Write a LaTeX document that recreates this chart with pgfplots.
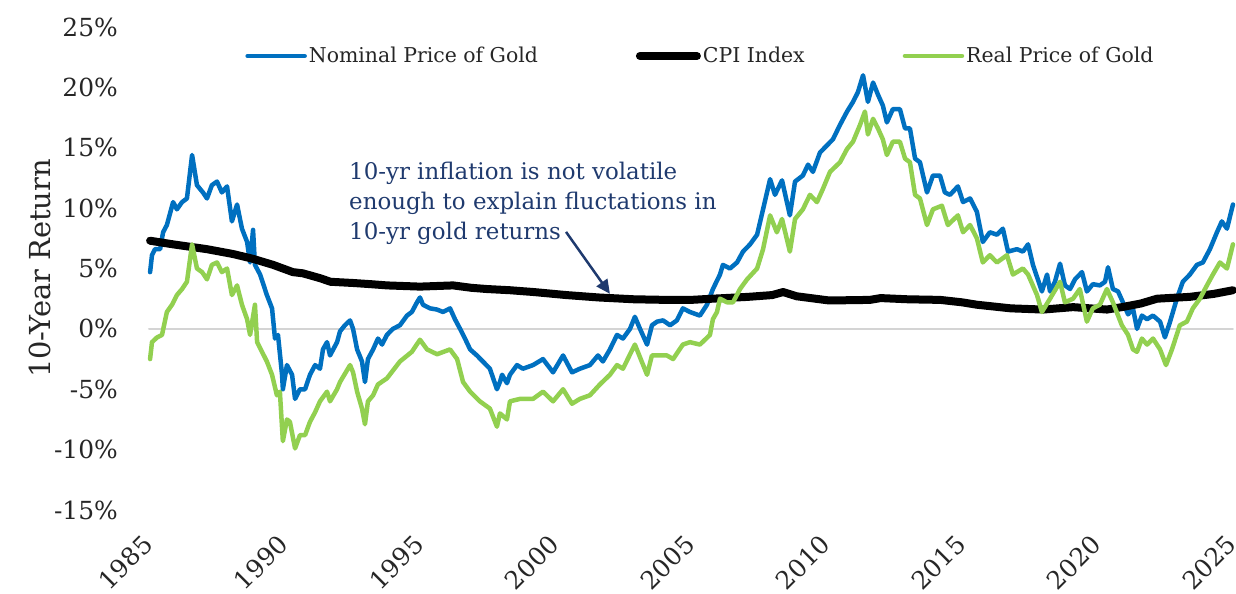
\documentclass[border=0pt]{standalone}
\usepackage{fontspec}
\setmainfont{DejaVu Serif}
\usepackage{pgfplots}
\pgfplotsset{compat=1.18}
\usetikzlibrary{arrows.meta}
\definecolor{nomblue}{HTML}{0070C0}
\definecolor{realgreen}{HTML}{92D050}
\definecolor{annnavy}{HTML}{1F3A6E}
\definecolor{zerogray}{HTML}{D4D4D4}
\definecolor{txt}{HTML}{262626}
\begin{document}
\begin{tikzpicture}
\begin{axis}[
  at={(0,0)}, anchor=south west,
  scale only axis, width=1084bp, height=483bp,
  xmin=1985, xmax=2025, ymin=-15, ymax=25,
  clip=false,
  axis line style={draw=none},
  tick style={draw=none},
  xtick={1985,1990,...,2025},
  ytick={-15,-10,...,25},
  /pgf/number format/assume math mode=true,
  /pgf/number format/1000 sep={},
  yticklabel={\pgfmathprintnumber{\tick}\%},
  xticklabel style={xshift=-1bp, yshift=-30bp, rotate=45, anchor=east, inner sep=0pt, text=txt,
    font=\fontsize{25}{28}\selectfont},
  yticklabel style={anchor=east, inner sep=0pt, text=txt,
    font=\fontsize{25}{28}\selectfont, xshift=-31bp},
  ylabel={10-Year Return},
  ylabel style={at={(axis description cs:-0.1006,0.5)}, anchor=center,
    font=\fontsize{29}{32}\selectfont, text=txt},
  legend columns=3,
  legend cell align=left,
  legend style={at={(axis cs:2005.35,22.6)}, anchor=center, draw=none, fill=none,
    font=\fontsize{20.5}{24}\selectfont, text=txt, inner sep=0pt,
    /tikz/every even column/.append style={column sep=96bp}},
  legend image code/.code={\draw[#1] (0bp,0bp) -- (57bp,0bp);},
  every axis plot/.append style={line join=round, line cap=round},
]
\addplot[zerogray, line width=2bp, forget plot] coordinates {(1985,0) (2025,0)};

% Nominal price of gold
\addplot[nomblue, line width=4.5bp] coordinates {
(1985.04,4.7) (1985.11,6.1) (1985.22,6.6) (1985.41,6.6) (1985.52,8.0) (1985.66,8.6)
(1985.89,10.5) (1986.03,9.9) (1986.22,10.5) (1986.40,10.8) (1986.59,14.4) (1986.77,11.9)
(1986.99,11.3) (1987.14,10.8) (1987.32,11.9) (1987.51,12.2) (1987.69,11.3) (1987.88,11.8)
(1988.06,8.9) (1988.25,10.3) (1988.43,8.3) (1988.62,7.2) (1988.73,5.5) (1988.84,8.2)
(1988.91,5.3) (1989.10,4.5) (1989.35,2.8) (1989.54,1.7) (1989.65,-0.8) (1989.76,-0.5)
(1989.91,-3.8) (1989.94,-5.0) (1990.09,-3.0) (1990.28,-3.8) (1990.39,-5.8) (1990.57,-5.0)
(1990.76,-5.0) (1990.94,-3.8) (1991.13,-3.0) (1991.31,-3.3) (1991.42,-1.7) (1991.57,-1.1)
(1991.68,-2.2) (1991.94,-1.1) (1992.05,-0.2) (1992.23,0.3) (1992.42,0.7) (1992.53,0.0)
(1992.68,-1.7) (1992.86,-2.7) (1992.97,-4.4) (1993.08,-2.5) (1993.27,-1.7) (1993.45,-0.8)
(1993.60,-1.3) (1993.78,-0.5) (1994.00,0.0) (1994.26,0.3) (1994.52,1.1) (1994.70,1.4)
(1994.89,2.2) (1995.00,2.6) (1995.11,2.0) (1995.37,1.7) (1995.63,1.6) (1995.85,1.4)
(1996.11,1.7) (1996.29,0.8) (1996.48,0.0) (1996.66,-0.8) (1996.85,-1.7) (1997.10,-2.2)
(1997.32,-2.7) (1997.58,-3.3) (1997.84,-5.0) (1997.95,-4.4) (1998.03,-3.8) (1998.21,-4.5)
(1998.32,-3.8) (1998.58,-3.0) (1998.80,-3.3) (1999.17,-3.0) (1999.54,-2.5) (1999.91,-3.6)
(2000.28,-2.2) (2000.61,-3.6) (2000.90,-3.3) (2001.27,-3.0) (2001.57,-2.2) (2001.75,-2.7)
(2002.01,-1.7) (2002.27,-0.5) (2002.49,-0.8) (2002.75,0.0) (2002.93,1.0) (2003.12,0.0)
(2003.38,-1.3) (2003.56,0.3) (2003.75,0.6) (2003.97,0.7) (2004.23,0.3) (2004.48,0.7)
(2004.70,1.7) (2004.96,1.4) (2005.33,1.1) (2005.59,2.0) (2005.81,3.3) (2006.07,4.5)
(2006.18,5.3) (2006.44,5.0) (2006.70,5.5) (2006.92,6.4) (2007.18,7.0) (2007.44,7.8)
(2007.66,9.9) (2007.92,12.4) (2008.10,11.1) (2008.36,12.3) (2008.65,9.4) (2008.84,12.2)
(2009.13,12.7) (2009.32,13.6) (2009.50,13.0) (2009.76,14.6) (2010.02,15.2) (2010.24,15.7)
(2010.50,16.9) (2010.76,18.0) (2010.98,18.8) (2011.16,19.6) (2011.35,21.0) (2011.53,18.8)
(2011.72,20.4) (2011.90,19.4) (2012.08,18.5) (2012.23,17.1) (2012.45,18.2) (2012.71,18.2)
(2012.90,16.6) (2013.08,16.6) (2013.27,14.1) (2013.45,13.8) (2013.71,11.3) (2013.93,12.7)
(2014.19,12.7) (2014.37,11.3) (2014.56,11.1) (2014.85,11.8) (2015.04,10.5) (2015.30,10.8)
(2015.55,9.7) (2015.77,7.2) (2016.03,8.0) (2016.29,7.8) (2016.51,8.3) (2016.70,6.4)
(2017.03,6.6) (2017.25,6.4) (2017.44,7.0) (2017.62,5.3) (2017.95,3.1) (2018.14,4.5)
(2018.25,3.1) (2018.43,3.9) (2018.62,5.4) (2018.80,3.6) (2018.99,3.3) (2019.17,4.1)
(2019.43,4.7) (2019.61,3.1) (2019.83,3.7) (2020.09,3.6) (2020.28,3.9) (2020.39,5.1)
(2020.57,3.3) (2020.76,3.1) (2020.94,2.2) (2021.13,1.2) (2021.31,1.7) (2021.46,0.0)
(2021.64,1.1) (2021.83,0.8) (2022.05,1.1) (2022.31,0.6) (2022.49,-0.7) (2022.68,0.6)
(2022.93,2.5) (2023.15,3.9) (2023.41,4.5) (2023.67,5.3) (2023.89,5.5) (2024.15,6.6)
(2024.41,8.0) (2024.59,8.9) (2024.78,8.3) (2025.00,10.3)
};
\addlegendentry{Nominal Price of Gold}

% CPI index
\addplot[black, line width=8bp] coordinates {
(1985.04,7.3) (1985.89,7.0) (1987.14,6.6) (1988.10,6.2) (1988.84,5.8) (1989.58,5.3)
(1990.31,4.7) (1990.68,4.6) (1991.31,4.2) (1991.70,3.9) (1992.53,3.8) (1993.20,3.7)
(1993.78,3.6) (1995.00,3.5) (1996.22,3.6) (1996.90,3.4) (1997.47,3.3) (1998.32,3.2)
(1999.20,3.05) (2000.40,2.8) (2001.60,2.6) (2002.90,2.45) (2004.10,2.4) (2005.00,2.4)
(2005.80,2.5) (2007.10,2.65) (2008.00,2.8) (2008.40,3.05) (2008.90,2.7) (2010.10,2.35)
(2011.60,2.4) (2012.00,2.55) (2013.00,2.45) (2014.20,2.4) (2015.00,2.2) (2015.55,2.0)
(2016.80,1.7) (2018.00,1.6) (2019.10,1.8) (2020.35,1.6) (2020.90,1.8) (2021.60,2.1)
(2022.20,2.5) (2023.40,2.65) (2024.30,2.9) (2025.00,3.2)
};
\addlegendentry{CPI Index}

% Real price of gold
\addplot[realgreen, line width=4.5bp] coordinates {
(1985.04,-2.5) (1985.11,-1.1) (1985.30,-0.7) (1985.48,-0.5) (1985.66,1.4) (1985.85,2.0)
(1986.03,2.8) (1986.22,3.3) (1986.40,3.9) (1986.59,7.0) (1986.77,5.0) (1986.96,4.7)
(1987.14,4.1) (1987.32,5.3) (1987.51,5.5) (1987.69,4.7) (1987.88,5.0) (1988.06,2.8)
(1988.25,3.6) (1988.43,2.0) (1988.62,0.8) (1988.73,-0.5) (1988.91,2.0) (1988.99,-1.1)
(1989.17,-1.9) (1989.35,-2.7) (1989.54,-3.8) (1989.72,-5.5) (1989.83,-5.2) (1989.94,-9.3)
(1990.09,-7.5) (1990.20,-7.7) (1990.39,-9.9) (1990.57,-8.8) (1990.76,-8.8) (1990.94,-7.7)
(1991.13,-6.9) (1991.31,-6.0) (1991.57,-5.2) (1991.68,-6.0) (1991.94,-5.0) (1992.05,-4.4)
(1992.42,-3.0) (1992.53,-3.6) (1992.68,-5.2) (1992.86,-6.6) (1992.97,-7.9) (1993.08,-6.0)
(1993.27,-5.5) (1993.45,-4.6) (1993.78,-4.1) (1994.26,-2.7) (1994.70,-1.9) (1995.00,-0.9)
(1995.26,-1.7) (1995.63,-2.1) (1996.11,-1.7) (1996.37,-2.5) (1996.59,-4.4) (1996.85,-5.2)
(1997.21,-6.0) (1997.58,-6.6) (1997.84,-8.1) (1997.95,-7.0) (1998.21,-7.5) (1998.32,-6.0)
(1998.69,-5.8) (1999.17,-5.8) (1999.54,-5.2) (1999.91,-6.0) (2000.28,-5.0) (2000.61,-6.2)
(2000.90,-5.8) (2001.27,-5.5) (2001.64,-4.6) (2002.01,-3.8) (2002.27,-3.0) (2002.49,-3.3)
(2002.93,-1.3) (2003.38,-3.8) (2003.56,-2.2) (2004.11,-2.2) (2004.34,-2.5) (2004.70,-1.3)
(2004.96,-1.1) (2005.33,-1.3) (2005.70,-0.5) (2005.81,0.8) (2005.96,1.4) (2006.07,2.5)
(2006.33,2.2) (2006.55,2.2) (2006.81,3.3) (2007.07,4.1) (2007.44,5.0) (2007.66,6.6)
(2007.92,9.4) (2008.17,8.0) (2008.36,9.1) (2008.65,6.4) (2008.84,9.1) (2009.13,9.9)
(2009.39,11.1) (2009.65,10.5) (2009.87,11.6) (2010.13,13.0) (2010.50,13.8) (2010.76,14.9)
(2010.98,15.5) (2011.24,16.9) (2011.42,18.0) (2011.53,16.1) (2011.72,17.4) (2011.90,16.6)
(2012.08,15.7) (2012.23,14.4) (2012.45,15.5) (2012.71,15.5) (2012.90,14.1) (2013.08,13.8)
(2013.27,11.1) (2013.45,10.8) (2013.71,8.6) (2013.93,9.9) (2014.26,10.2) (2014.48,8.6)
(2014.85,9.4) (2015.04,8.0) (2015.30,8.6) (2015.55,7.5) (2015.77,5.5) (2016.03,6.1)
(2016.29,5.5) (2016.66,6.1) (2016.88,4.5) (2017.25,5.0) (2017.44,4.5) (2017.77,2.8)
(2017.95,1.4) (2018.25,2.5) (2018.62,3.9) (2018.80,2.2) (2019.10,2.5) (2019.35,3.3)
(2019.61,0.6) (2019.83,1.7) (2020.09,2.0) (2020.35,3.3) (2020.57,2.2) (2020.90,0.3)
(2021.13,-0.5) (2021.31,-1.7) (2021.46,-1.9) (2021.64,-0.8) (2021.83,-1.3) (2022.05,-0.8)
(2022.31,-1.7) (2022.53,-3.0) (2022.75,-1.7) (2023.04,0.3) (2023.30,0.6) (2023.52,1.7)
(2023.78,2.5) (2024.04,3.6) (2024.26,4.5) (2024.52,5.5) (2024.78,5.0) (2025.00,7.0)
};
\addlegendentry{Real Price of Gold}

\node[anchor=north west, inner sep=0pt, align=left, text=annnavy,
  font=\fontsize{23}{30}\selectfont] at (axis cs:1992.38,13.83)
  {10-yr inflation is not volatile\\enough to explain fluctations in\\10-yr gold returns};
\draw[annnavy, line width=2.5bp, -{Triangle[length=14bp, width=13bp]}]
  (axis cs:2000.39,8.03) -- (axis cs:2002.01,2.90);
\end{axis}
\pgfresetboundingbox
\useasboundingbox (-149bp,-84bp) rectangle (1087bp,510bp);
\end{tikzpicture}
\end{document}
